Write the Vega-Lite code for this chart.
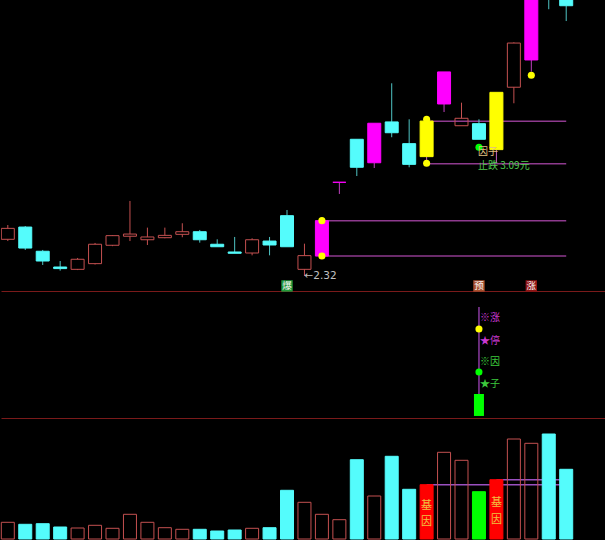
{
  "$schema": "https://vega.github.io/schema/vega-lite/v6.json",
  "background": "black",
  "padding": 0,
  "spacing": 0,
  "bounds": "flush",
  "config": {
    "view": {"stroke": null},
    "scale": {"continuousPadding": 0},
    "axisX": {"domainColor": "#7a1a1a", "domainWidth": 1, "labels": false, "ticks": false, "grid": false}
  },
  "datasets": {
    "k": [
      {"i":0,"o":2.572,"h":2.670,"l":2.560,"c":2.647,"k":"up","vol":1670,"vk":"up"},
      {"i":1,"o":2.656,"h":2.663,"l":2.499,"c":2.512,"k":"dn","vol":1470,"vk":"dn"},
      {"i":2,"o":2.490,"h":2.499,"l":2.396,"c":2.423,"k":"dn","vol":1530,"vk":"dn"},
      {"i":3,"o":2.382,"h":2.423,"l":2.357,"c":2.371,"k":"dn","vol":1200,"vk":"dn"},
      {"i":4,"o":2.366,"h":2.444,"l":2.361,"c":2.435,"k":"up","vol":1100,"vk":"up"},
      {"i":5,"o":2.405,"h":2.547,"l":2.399,"c":2.538,"k":"up","vol":1370,"vk":"up"},
      {"i":6,"o":2.531,"h":2.600,"l":2.525,"c":2.597,"k":"up","vol":1070,"vk":"up"},
      {"i":7,"o":2.593,"h":2.835,"l":2.560,"c":2.608,"k":"up","vol":2470,"vk":"up"},
      {"i":8,"o":2.569,"h":2.652,"l":2.533,"c":2.588,"k":"up","vol":1670,"vk":"up"},
      {"i":9,"o":2.583,"h":2.652,"l":2.579,"c":2.599,"k":"up","vol":1130,"vk":"up"},
      {"i":10,"o":2.606,"h":2.682,"l":2.586,"c":2.624,"k":"up","vol":970,"vk":"up"},
      {"i":11,"o":2.624,"h":2.636,"l":2.549,"c":2.569,"k":"dn","vol":970,"vk":"dn"},
      {"i":12,"o":2.538,"h":2.572,"l":2.521,"c":2.521,"k":"dn","vol":800,"vk":"dn"},
      {"i":13,"o":2.485,"h":2.588,"l":2.476,"c":2.476,"k":"dn","vol":900,"vk":"dn"},
      {"i":14,"o":2.478,"h":2.579,"l":2.462,"c":2.569,"k":"up","vol":1070,"vk":"up"},
      {"i":15,"o":2.560,"h":2.588,"l":2.462,"c":2.533,"k":"dn","vol":1130,"vk":"dn"},
      {"i":16,"o":2.734,"h":2.773,"l":2.521,"c":2.521,"k":"dn","vol":4870,"vk":"dn"},
      {"i":17,"o":2.366,"h":2.542,"l":2.320,"c":2.460,"k":"up","vol":3670,"vk":"up"},
      {"i":18,"o":2.457,"h":2.700,"l":2.457,"c":2.700,"k":"mag","vol":2470,"vk":"up"},
      {"i":19,"o":2.963,"h":2.963,"l":2.883,"c":2.963,"k":"mag","vol":1930,"vk":"up"},
      {"i":20,"o":3.258,"h":3.258,"l":3.006,"c":3.066,"k":"dn","vol":7930,"vk":"dn"},
      {"i":21,"o":3.097,"h":3.368,"l":3.061,"c":3.368,"k":"mag","vol":4300,"vk":"up"},
      {"i":22,"o":3.377,"h":3.642,"l":3.272,"c":3.303,"k":"dn","vol":8270,"vk":"dn"},
      {"i":23,"o":3.228,"h":3.395,"l":3.066,"c":3.086,"k":"dn","vol":4970,"vk":"dn"},
      {"i":24,"o":3.139,"h":3.383,"l":3.116,"c":3.383,"k":"yel","vol":5430,"vk":"red"},
      {"i":25,"o":3.500,"h":3.720,"l":3.445,"c":3.720,"k":"mag","vol":8670,"vk":"up"},
      {"i":26,"o":3.351,"h":3.509,"l":3.351,"c":3.402,"k":"up","vol":7870,"vk":"up"},
      {"i":27,"o":3.365,"h":3.395,"l":3.258,"c":3.258,"k":"dn","vol":4730,"vk":"grn"},
      {"i":28,"o":3.187,"h":3.580,"l":3.095,"c":3.580,"k":"yel","vol":5930,"vk":"red"},
      {"i":29,"o":3.615,"h":3.923,"l":3.505,"c":3.918,"k":"up","vol":10000,"vk":"up"},
      {"i":30,"o":3.802,"h":4.320,"l":3.722,"c":4.300,"k":"mag","vol":9570,"vk":"up"},
      {"i":31,"o":4.300,"h":4.350,"l":4.150,"c":4.250,"k":"dn","vol":10500,"vk":"dn"},
      {"i":32,"o":4.260,"h":4.280,"l":4.069,"c":4.174,"k":"dn","vol":6970,"vk":"dn"}
    ],
    "plines": [
      {"a":18,"b":32,"v":2.700},
      {"a":18,"b":32,"v":2.457},
      {"a":24,"b":32,"v":3.381},
      {"a":24,"b":32,"v":3.090}
    ],
    "pdots": [
      {"i":18,"v":2.700,"k":"yel"},
      {"i":18,"v":2.457,"k":"yel"},
      {"i":24,"v":3.395,"k":"yel"},
      {"i":24,"v":3.093,"k":"yel"},
      {"i":30,"v":3.697,"k":"yel"},
      {"i":27,"v":3.203,"k":"grn"}
    ],
    "low": [{"i":17,"v":2.322,"t":"←2.32"}],
    "yinzi": [{"i":27,"v":3.171,"t":"因子"}],
    "stop": [{"i":27,"v":3.075,"t":"止跌 3.09元"}],
    "tags": [
      {"i":16,"v":2.252,"t":"爆","k":"bz"},
      {"i":27,"v":2.252,"t":"预","k":"yu"},
      {"i":30,"v":2.252,"t":"涨","k":"zh"}
    ],
    "mline": [{"i":27,"a":18.9,"b":87.4}],
    "mbar": [{"i":27,"lo":1.6,"hi":18.9,"k":"grn"}],
    "mdots": [{"i":27,"v":70.1,"k":"yel"},{"i":27,"v":36.2,"k":"grn"}],
    "mtextm": [{"i":27,"v":78.5,"t":"※涨"},{"i":27,"v":60.9,"t":"★停"}],
    "mtextg": [{"i":27,"v":43.8,"t":"※因"},{"i":27,"v":26.5,"t":"★子"}],
    "vlines": [{"a":24,"b":32,"v":5430},{"a":28,"b":32,"v":5930}],
    "vtext": [
      {"i":24,"v":3300,"t":"基"},
      {"i":24,"v":1730,"t":"因"},
      {"i":28,"v":3630,"t":"基"},
      {"i":28,"v":1900,"t":"因"}
    ]
  },
  "vconcat": [
    {
      "width": 605,
      "height": 291,
      "layer": [
        {
          "data": {"name": "plines"},
          "mark": {"type": "rule", "strokeWidth": 1.5, "color": "#8e3a8e", "clip": true},
          "encoding": {
            "x": {"field": "a", "type": "quantitative", "scale": {"domain": [-0.39, 34.28], "nice": false, "zero": false, "padding": 0}, "axis": {"title": null}},
            "x2": {"field": "b"},
            "y": {"field": "v", "type": "quantitative", "scale": {"domain": [2.2174, 4.2133], "nice": false, "zero": false}, "axis": null}
          }
        },
        {
          "data": {"name": "k"},
          "transform": [
            {"calculate": "max(datum.o, datum.c)", "as": "top"},
            {"calculate": "min(datum.o, datum.c)", "as": "bot"}
          ],
          "layer": [
            {
              "mark": {"type": "rule", "strokeWidth": 1, "clip": true},
              "encoding": {
                "x": {"field": "i", "type": "quantitative", "scale": {"domain": [-0.39, 34.28], "nice": false, "zero": false, "padding": 0}, "axis": {"title": null}},
                "y": {"field": "h", "type": "quantitative", "scale": {"domain": [2.2174, 4.2133], "nice": false, "zero": false}, "axis": null},
                "y2": {"field": "top"},
                "color": {"field": "k", "type": "nominal", "scale": {"domain": ["up","dn","mag","yel"], "range": ["#c45050","#4fc4c4","#c040c0","#c060c0"]}, "legend": null}
              }
            },
            {
              "mark": {"type": "rule", "strokeWidth": 1, "clip": true},
              "encoding": {
                "x": {"field": "i", "type": "quantitative", "scale": {"domain": [-0.39, 34.28], "nice": false, "zero": false, "padding": 0}, "axis": {"title": null}},
                "y": {"field": "bot", "type": "quantitative", "scale": {"domain": [2.2174, 4.2133], "nice": false, "zero": false}, "axis": null},
                "y2": {"field": "l"},
                "color": {"field": "k", "type": "nominal", "scale": {"domain": ["up","dn","mag","yel"], "range": ["#c45050","#4fc4c4","#c040c0","#c060c0"]}, "legend": null}
              }
            },
            {
              "mark": {"type": "bar", "size": 13, "strokeWidth": 1, "clip": true},
              "encoding": {
                "x": {"field": "i", "type": "quantitative", "scale": {"domain": [-0.39, 34.28], "nice": false, "zero": false, "padding": 0}, "axis": {"title": null}},
                "y": {"field": "o", "type": "quantitative", "scale": {"domain": [2.2174, 4.2133], "nice": false, "zero": false}, "axis": null},
                "y2": {"field": "c"},
                "fill": {"field": "k", "type": "nominal", "scale": {"domain": ["up","dn","mag","yel","red","grn","bz","yu","zh"], "range": ["rgba(0,0,0,0)","#54fcfc","#ff00ff","#ffff00","#ff0000","#00ff00","#1f9a3a","#a8502e","#8e1414"]}, "legend": null},
                "stroke": {"field": "k", "type": "nominal", "scale": {"domain": ["up","dn","mag","yel","red","grn"], "range": ["#c45050","#54fcfc","#ff00ff","#ffff00","#ff0000","#00ff00"]}, "legend": null}
              }
            }
          ]
        },
        {
          "data": {"name": "pdots"},
          "mark": {"type": "point", "shape": "circle", "size": 50, "filled": true, "opacity": 1, "strokeWidth": 0, "clip": true},
          "encoding": {
            "x": {"field": "i", "type": "quantitative", "scale": {"domain": [-0.39, 34.28], "nice": false, "zero": false, "padding": 0}, "axis": {"title": null}},
            "y": {"field": "v", "type": "quantitative", "scale": {"domain": [2.2174, 4.2133], "nice": false, "zero": false}, "axis": null},
            "fill": {"field": "k", "type": "nominal", "scale": {"domain": ["up","dn","mag","yel","red","grn","bz","yu","zh"], "range": ["rgba(0,0,0,0)","#54fcfc","#ff00ff","#ffff00","#ff0000","#00ff00","#1f9a3a","#a8502e","#8e1414"]}, "legend": null}
          }
        },
        {
          "data": {"name": "low"},
          "mark": {"type": "text", "align": "left", "baseline": "middle", "font": "DejaVu Sans", "fontSize": 10.5, "color": "#c0c0c0", "dx": 0},
          "encoding": {
            "x": {"field": "i", "type": "quantitative", "scale": {"domain": [-0.39, 34.28], "nice": false, "zero": false, "padding": 0}, "axis": {"title": null}},
            "y": {"field": "v", "type": "quantitative", "scale": {"domain": [2.2174, 4.2133], "nice": false, "zero": false}, "axis": null},
            "text": {"field": "t"}
          }
        },
        {
          "data": {"name": "yinzi"},
          "mark": {"type": "text", "align": "left", "baseline": "middle", "font": "Noto Sans CJK SC", "fontSize": 10, "color": "#e0c080", "dx": -1},
          "encoding": {
            "x": {"field": "i", "type": "quantitative", "scale": {"domain": [-0.39, 34.28], "nice": false, "zero": false, "padding": 0}, "axis": {"title": null}},
            "y": {"field": "v", "type": "quantitative", "scale": {"domain": [2.2174, 4.2133], "nice": false, "zero": false}, "axis": null},
            "text": {"field": "t"}
          }
        },
        {
          "data": {"name": "stop"},
          "mark": {"type": "text", "align": "left", "baseline": "middle", "font": "Noto Sans CJK SC", "fontSize": 10, "color": "#50c850", "dx": -1},
          "encoding": {
            "x": {"field": "i", "type": "quantitative", "scale": {"domain": [-0.39, 34.28], "nice": false, "zero": false, "padding": 0}, "axis": {"title": null}},
            "y": {"field": "v", "type": "quantitative", "scale": {"domain": [2.2174, 4.2133], "nice": false, "zero": false}, "axis": null},
            "text": {"field": "t"}
          }
        },
        {
          "data": {"name": "tags"},
          "mark": {"type": "point", "shape": "square", "size": 130, "filled": true, "opacity": 1, "strokeWidth": 0},
          "encoding": {
            "x": {"field": "i", "type": "quantitative", "scale": {"domain": [-0.39, 34.28], "nice": false, "zero": false, "padding": 0}, "axis": {"title": null}},
            "y": {"field": "v", "type": "quantitative", "scale": {"domain": [2.2174, 4.2133], "nice": false, "zero": false}, "axis": null},
            "fill": {"field": "k", "type": "nominal", "scale": {"domain": ["up","dn","mag","yel","red","grn","bz","yu","zh"], "range": ["rgba(0,0,0,0)","#54fcfc","#ff00ff","#ffff00","#ff0000","#00ff00","#1f9a3a","#a8502e","#8e1414"]}, "legend": null}
          }
        },
        {
          "data": {"name": "tags"},
          "mark": {"type": "text", "align": "center", "baseline": "middle", "font": "Noto Sans CJK SC", "fontSize": 9.5, "color": "#f4f0f0"},
          "encoding": {
            "x": {"field": "i", "type": "quantitative", "scale": {"domain": [-0.39, 34.28], "nice": false, "zero": false, "padding": 0}, "axis": {"title": null}},
            "y": {"field": "v", "type": "quantitative", "scale": {"domain": [2.2174, 4.2133], "nice": false, "zero": false}, "axis": null},
            "text": {"field": "t"}
          }
        }
      ]
    },
    {
      "width": 605,
      "height": 127,
      "layer": [
        {
          "data": {"name": "mline"},
          "mark": {"type": "rule", "strokeWidth": 1.5, "color": "#8a3aa0"},
          "encoding": {
            "x": {"field": "i", "type": "quantitative", "scale": {"domain": [-0.39, 34.28], "nice": false, "zero": false, "padding": 0}, "axis": {"title": null}},
            "y": {"field": "a", "type": "quantitative", "scale": {"domain": [0, 100], "nice": false, "zero": false}, "axis": null},
            "y2": {"field": "b"}
          }
        },
        {
          "data": {"name": "mbar"},
          "mark": {"type": "bar", "size": 10, "color": "#00ff00"},
          "encoding": {
            "x": {"field": "i", "type": "quantitative", "scale": {"domain": [-0.39, 34.28], "nice": false, "zero": false, "padding": 0}, "axis": {"title": null}},
            "y": {"field": "lo", "type": "quantitative", "scale": {"domain": [0, 100], "nice": false, "zero": false}, "axis": null},
            "y2": {"field": "hi"}
          }
        },
        {
          "data": {"name": "mdots"},
          "mark": {"type": "point", "shape": "circle", "size": 50, "filled": true, "opacity": 1, "strokeWidth": 0},
          "encoding": {
            "x": {"field": "i", "type": "quantitative", "scale": {"domain": [-0.39, 34.28], "nice": false, "zero": false, "padding": 0}, "axis": {"title": null}},
            "y": {"field": "v", "type": "quantitative", "scale": {"domain": [0, 100], "nice": false, "zero": false}, "axis": null},
            "fill": {"field": "k", "type": "nominal", "scale": {"domain": ["up","dn","mag","yel","red","grn","bz","yu","zh"], "range": ["rgba(0,0,0,0)","#54fcfc","#ff00ff","#ffff00","#ff0000","#00ff00","#1f9a3a","#a8502e","#8e1414"]}, "legend": null}
          }
        },
        {
          "data": {"name": "mtextm"},
          "mark": {"type": "text", "align": "left", "baseline": "middle", "font": "Noto Sans CJK SC", "fontSize": 10, "color": "#c838d0", "dx": 1},
          "encoding": {
            "x": {"field": "i", "type": "quantitative", "scale": {"domain": [-0.39, 34.28], "nice": false, "zero": false, "padding": 0}, "axis": {"title": null}},
            "y": {"field": "v", "type": "quantitative", "scale": {"domain": [0, 100], "nice": false, "zero": false}, "axis": null},
            "text": {"field": "t"}
          }
        },
        {
          "data": {"name": "mtextg"},
          "mark": {"type": "text", "align": "left", "baseline": "middle", "font": "Noto Sans CJK SC", "fontSize": 10, "color": "#3cc83c", "dx": 1},
          "encoding": {
            "x": {"field": "i", "type": "quantitative", "scale": {"domain": [-0.39, 34.28], "nice": false, "zero": false, "padding": 0}, "axis": {"title": null}},
            "y": {"field": "v", "type": "quantitative", "scale": {"domain": [0, 100], "nice": false, "zero": false}, "axis": null},
            "text": {"field": "t"}
          }
        }
      ]
    },
    {
      "width": 605,
      "height": 122,
      "layer": [
        {
          "data": {"name": "vlines"},
          "mark": {"type": "rule", "strokeWidth": 1.5, "color": "#9a50c0"},
          "encoding": {
            "x": {"field": "a", "type": "quantitative", "scale": {"domain": [-0.39, 34.28], "nice": false, "zero": false, "padding": 0}, "axis": {"title": null}},
            "x2": {"field": "b"},
            "y": {"field": "v", "type": "quantitative", "scale": {"domain": [-100, 12100], "nice": false, "zero": false}, "axis": null}
          }
        },
        {
          "data": {"name": "k"},
          "mark": {"type": "bar", "size": 13, "strokeWidth": 1},
          "encoding": {
            "x": {"field": "i", "type": "quantitative", "scale": {"domain": [-0.39, 34.28], "nice": false, "zero": false, "padding": 0}, "axis": {"title": null}},
            "y": {"field": "vol", "type": "quantitative", "scale": {"domain": [-100, 12100], "nice": false, "zero": false}, "axis": null},
            "y2": {"datum": 0},
            "fill": {"field": "vk", "type": "nominal", "scale": {"domain": ["up","dn","mag","yel","red","grn","bz","yu","zh"], "range": ["rgba(0,0,0,0)","#54fcfc","#ff00ff","#ffff00","#ff0000","#00ff00","#1f9a3a","#a8502e","#8e1414"]}, "legend": null},
            "stroke": {"field": "vk", "type": "nominal", "scale": {"domain": ["up","dn","mag","yel","red","grn"], "range": ["#c45050","#54fcfc","#ff00ff","#ffff00","#ff0000","#00ff00"]}, "legend": null}
          }
        },
        {
          "data": {"name": "vtext"},
          "mark": {"type": "text", "align": "center", "baseline": "middle", "font": "Noto Sans CJK SC", "fontSize": 11, "color": "#f0c040"},
          "encoding": {
            "x": {"field": "i", "type": "quantitative", "scale": {"domain": [-0.39, 34.28], "nice": false, "zero": false, "padding": 0}, "axis": {"title": null}},
            "y": {"field": "v", "type": "quantitative", "scale": {"domain": [-100, 12100], "nice": false, "zero": false}, "axis": null},
            "text": {"field": "t"}
          }
        }
      ]
    }
  ]
}
